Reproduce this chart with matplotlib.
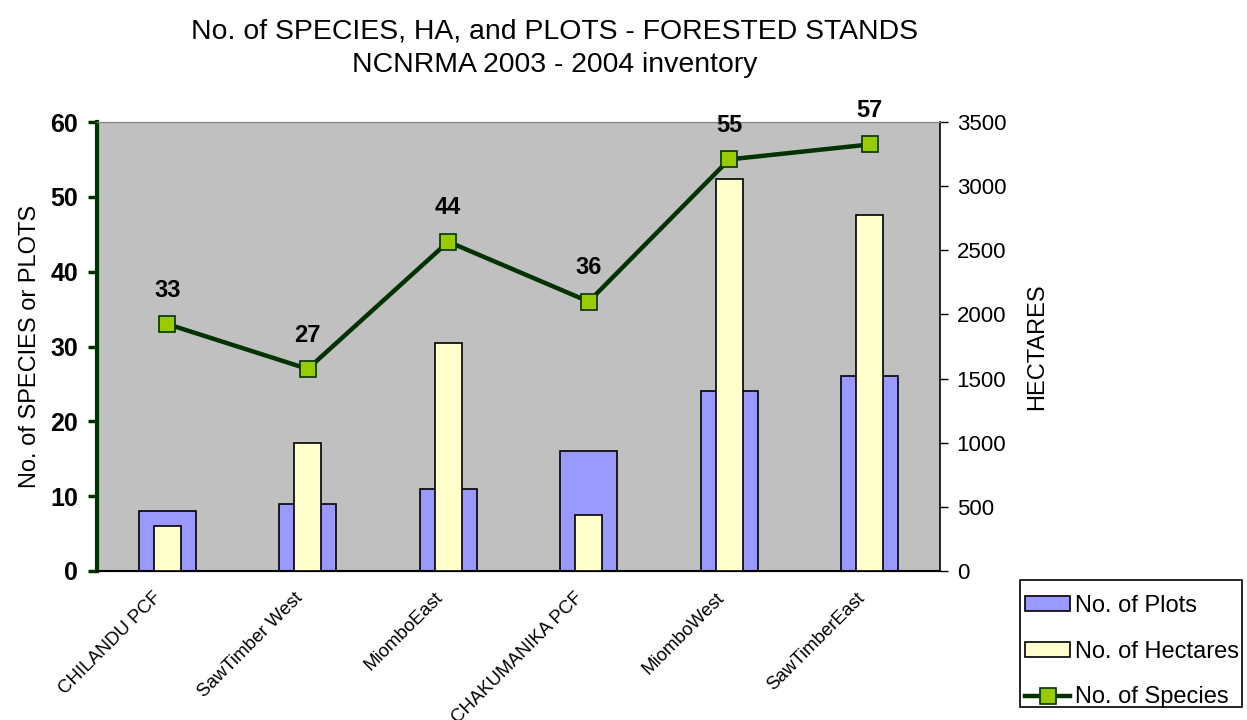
import matplotlib
matplotlib.use("Agg")
import matplotlib.pyplot as plt
import matplotlib.transforms as mtransforms
from matplotlib.patches import Rectangle
import numpy as np

plt.rcParams['font.family'] = ['Liberation Sans', 'DejaVu Sans']

categories = ["CHILANDU PCF", "SawTimber West", "MiomboEast", "CHAKUMANIKA PCF", "MiomboWest", "SawTimberEast"]
plots = [8, 9, 11, 16, 24, 26]
hectares = [350, 995, 1775, 435, 3055, 2775]
species = [33, 27, 44, 36, 55, 57]

W, H = 1247, 720
fig = plt.figure(figsize=(W/100, H/100), dpi=100)
rect = [97/W, 1-571/H, (940-97)/W, (571-122)/H]
ax = fig.add_axes(rect)
ax2 = ax.twinx()
ax3 = ax.twinx()

x = np.arange(len(categories))
ax.set_facecolor('#C0C0C0')
ax2.patch.set_visible(False)
ax3.patch.set_visible(False)

b1 = ax.bar(x, plots, width=0.405, color='#9999FF', edgecolor='black', linewidth=1.2, zorder=2)
b2 = ax2.bar(x, hectares, width=0.19, color='#FFFFCC', edgecolor='black', linewidth=1.2, zorder=2)
line, = ax3.plot(x, species, color='#003300', linewidth=3.2, marker='s', markersize=12,
                 markerfacecolor='#99CC00', markeredgecolor='#003300', markeredgewidth=1.2, zorder=5)
for xi, s in zip(x, species):
    ax3.text(xi, s + 3.0, str(s), ha='center', va='bottom', fontsize=17, fontweight='bold')

for a in (ax, ax3):
    a.set_ylim(0, 60)
    a.set_xlim(-0.5, len(categories) - 0.5)
ax2.set_ylim(0, 3500)
ax2.set_xlim(-0.5, len(categories) - 0.5)
ax3.axis('off')

ax.set_yticks(range(0, 61, 10))
ax2.set_yticks(range(0, 3501, 500))
ax.set_xticks(x)
ax.set_xticklabels(categories, rotation=45, ha='right', va='top', rotation_mode='anchor', fontsize=13.4)
ax.tick_params(axis='x', length=0, pad=13)
offset = mtransforms.ScaledTranslation(-14/100, 0, fig.dpi_scale_trans)
for lab in ax.get_xticklabels():
    lab.set_transform(lab.get_transform() + offset)
for lab in ax.get_yticklabels():
    lab.set_fontweight('bold')
ax.tick_params(axis='y', labelsize=18, length=6.5, width=2.5, color='#003300', direction='out', pad=7)
ax2.tick_params(axis='y', labelsize=16, length=6, width=1, color='black', pad=6)

ax.spines['left'].set_color('#003300')
ax.spines['left'].set_linewidth(3)
for a in (ax2, ax3):
    a.spines['left'].set_visible(False)
ax.spines['top'].set_color('#808080')
ax2.spines['top'].set_color('#808080')
ax.spines['right'].set_visible(False)
ax2.spines['right'].set_color('black')
ax2.spines['right'].set_linewidth(1.2)
ax.spines['bottom'].set_color('black')
ax.spines['bottom'].set_linewidth(1.5)

ax.set_ylabel('No. of SPECIES or PLOTS', fontsize=17, labelpad=7)
ax2.set_ylabel('HECTARES', fontsize=17, labelpad=14)

fig.text(554.5/W, 1 - 38/H, 'No. of SPECIES, HA, and PLOTS - FORESTED STANDS',
         ha='center', va='baseline', fontsize=20.4)
fig.text(554.5/W, 1 - 72/H, 'NCNRMA 2003 - 2004 inventory',
         ha='center', va='baseline', fontsize=20.4)

fig.patches.append(Rectangle((1020/W, 1 - 707/H), (1242-1020)/W, (707-580)/H,
                             transform=fig.transFigure, facecolor='white', edgecolor='black',
                             linewidth=1.2, zorder=1))
handles = [b1, b2, line]
labels = ['No. of Plots', 'No. of Hectares', 'No. of Species']
leg = fig.legend(handles, labels, loc='upper left', bbox_to_anchor=(1017/W, 1 - 587/H),
                 borderaxespad=0, fontsize=17, frameon=False,
                 handlelength=1.9, handleheight=0.6, handletextpad=0.2, labelspacing=1.0, borderpad=0.35)
leg.set_zorder(3)

fig.savefig('out.png', dpi=100)
